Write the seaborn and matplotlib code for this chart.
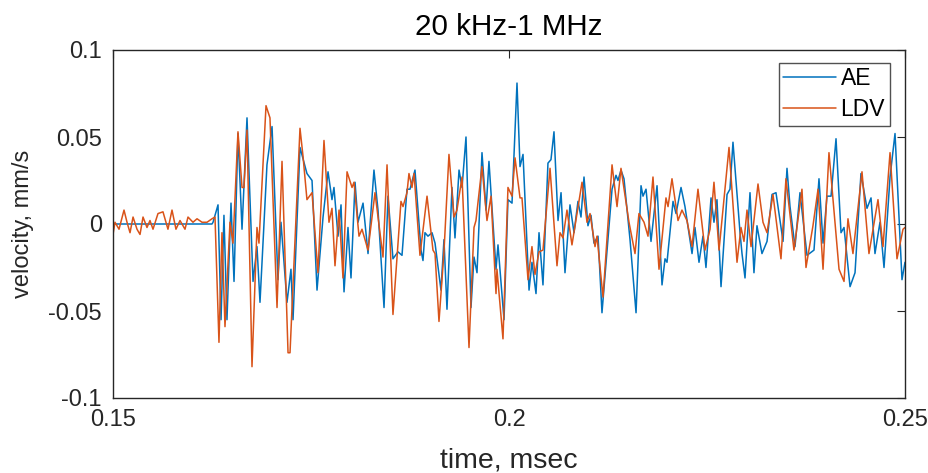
import numpy as np
import pandas as pd
import matplotlib
matplotlib.use("Agg")
import matplotlib.pyplot as plt
import seaborn as sns

# ---- data (time in msec, velocity in mm/s) ----
ae_time = [0.15000, 0.16250, 0.16263, 0.16326, 0.16364, 0.16401, 0.16439, 0.16490, 0.16528, 0.16578,
           0.16629, 0.16692, 0.16768, 0.16818, 0.16856, 0.16944, 0.17008, 0.17083, 0.17121, 0.17197,
           0.17247, 0.17273, 0.17361, 0.17449, 0.17513, 0.17576, 0.17652, 0.17715, 0.17765, 0.17790,
           0.17841, 0.17879, 0.17917, 0.17967, 0.18005, 0.18056, 0.18093, 0.18157, 0.18220, 0.18295,
           0.18346, 0.18422, 0.18472, 0.18535, 0.18598, 0.18649, 0.18712, 0.18750, 0.18813, 0.18889,
           0.18914, 0.18939, 0.18977, 0.19028, 0.19066, 0.19141, 0.19179, 0.19217, 0.19280, 0.19318,
           0.19369, 0.19407, 0.19457, 0.19520, 0.19558, 0.19596, 0.19659, 0.19710, 0.19747, 0.19836,
           0.19861, 0.19937, 0.19987, 0.20038, 0.20101, 0.20139, 0.20177, 0.20253, 0.20290, 0.20341,
           0.20379, 0.20429, 0.20492, 0.20530, 0.20568, 0.20619, 0.20657, 0.20707, 0.20770, 0.20821,
           0.20871, 0.20909, 0.20947, 0.20997, 0.21035, 0.21073, 0.21124, 0.21174, 0.21301, 0.21351,
           0.21376, 0.21414, 0.21452, 0.21528, 0.21604, 0.21667, 0.21692, 0.21730, 0.21793, 0.21869,
           0.21932, 0.21970, 0.21995, 0.22071, 0.22109, 0.22172, 0.22222, 0.22311, 0.22348, 0.22399,
           0.22449, 0.22487, 0.22551, 0.22588, 0.22626, 0.22677, 0.22753, 0.22790, 0.22828, 0.22917,
           0.22942, 0.22980, 0.23043, 0.23093, 0.23131, 0.23194, 0.23258, 0.23321, 0.23371, 0.23460,
           0.23510, 0.23548, 0.23611, 0.23674, 0.23763, 0.23851, 0.23914, 0.23965, 0.24015, 0.24066,
           0.24129, 0.24192, 0.24230, 0.24306, 0.24369, 0.24444, 0.24520, 0.24571, 0.24621, 0.24684,
           0.24735, 0.24811, 0.24874, 0.24962, 0.25000]
ae_vel = [0.000, 0.000, 0.001, 0.011, -0.055, 0.005, -0.055, 0.012, -0.033, 0.052,
          -0.003, 0.061, -0.033, -0.013, -0.045, 0.034, 0.056, -0.032, 0.001, -0.045,
          -0.026, -0.055, 0.044, 0.029, 0.025, -0.038, 0.004, 0.030, 0.014, 0.021,
          -0.007, 0.011, -0.039, -0.002, -0.031, 0.024, 0.001, 0.012, -0.017, 0.031,
          0.008, -0.048, 0.016, -0.020, -0.016, -0.018, 0.020, 0.020, 0.031, -0.015,
          -0.021, -0.005, -0.007, -0.005, -0.011, -0.038, -0.009, -0.049, 0.021, -0.008,
          0.031, 0.021, 0.050, -0.048, -0.019, -0.028, 0.041, 0.008, 0.036, -0.026,
          -0.012, -0.055, 0.014, 0.012, 0.081, 0.033, 0.040, -0.038, -0.022, -0.040,
          -0.005, -0.035, 0.035, 0.037, 0.053, 0.002, 0.018, -0.028, 0.011, -0.005,
          0.013, 0.004, 0.027, -0.001, 0.005, -0.011, -0.007, -0.051, 0.020, 0.028,
          0.025, 0.031, 0.026, -0.009, -0.051, 0.022, 0.016, 0.020, -0.010, 0.022,
          -0.035, -0.020, -0.022, 0.013, 0.006, 0.021, 0.010, -0.017, -0.002, -0.022,
          -0.007, -0.025, 0.015, 0.001, 0.014, -0.036, 0.017, 0.020, 0.047, -0.005,
          -0.017, -0.031, 0.018, -0.028, -0.001, -0.017, -0.010, 0.017, 0.018, -0.010,
          0.032, 0.010, -0.013, 0.018, -0.018, -0.015, 0.026, -0.011, 0.016, 0.016,
          0.049, -0.005, -0.002, -0.036, -0.028, 0.029, 0.009, 0.015, -0.017, 0.001,
          -0.025, 0.027, 0.052, -0.032, -0.022]

ldv_time = [0.15000, 0.15025, 0.15076, 0.15139, 0.15177, 0.15215, 0.15253, 0.15303, 0.15341, 0.15379,
            0.15429, 0.15467, 0.15505, 0.15568, 0.15631, 0.15694, 0.15745, 0.15795, 0.15846, 0.15909,
            0.15947, 0.16010, 0.16061, 0.16124, 0.16187, 0.16250, 0.16288, 0.16338, 0.16376, 0.16414,
            0.16477, 0.16515, 0.16578, 0.16629, 0.16654, 0.16692, 0.16755, 0.16818, 0.16843, 0.16932,
            0.16982, 0.17071, 0.17134, 0.17210, 0.17235, 0.17361, 0.17399, 0.17449, 0.17513, 0.17588,
            0.17664, 0.17727, 0.17765, 0.17803, 0.17854, 0.17904, 0.17955, 0.18018, 0.18043, 0.18106,
            0.18144, 0.18220, 0.18308, 0.18409, 0.18460, 0.18535, 0.18636, 0.18662, 0.18712, 0.18737,
            0.18775, 0.18801, 0.18876, 0.18965, 0.19040, 0.19066, 0.19116, 0.19179, 0.19242, 0.19306,
            0.19343, 0.19407, 0.19495, 0.19558, 0.19583, 0.19659, 0.19722, 0.19773, 0.19836, 0.19848,
            0.19924, 0.19987, 0.20038, 0.20076, 0.20139, 0.20164, 0.20240, 0.20290, 0.20328, 0.20379,
            0.20429, 0.20518, 0.20606, 0.20644, 0.20682, 0.20732, 0.20795, 0.20922, 0.20985, 0.21023,
            0.21086, 0.21111, 0.21187, 0.21301, 0.21364, 0.21414, 0.21515, 0.21591, 0.21641, 0.21705,
            0.21755, 0.21818, 0.21894, 0.21982, 0.22008, 0.22058, 0.22134, 0.22184, 0.22247, 0.22311,
            0.22386, 0.22475, 0.22538, 0.22588, 0.22652, 0.22778, 0.22879, 0.22929, 0.22967, 0.23005,
            0.23056, 0.23144, 0.23207, 0.23258, 0.23333, 0.23434, 0.23497, 0.23598, 0.23699, 0.23750,
            0.23838, 0.23902, 0.23965, 0.24040, 0.24167, 0.24230, 0.24280, 0.24343, 0.24457, 0.24545,
            0.24659, 0.24722, 0.24811, 0.24899, 0.24975, 0.25000]
ldv_vel = [-0.006, 0.001, -0.003, 0.008, 0.001, -0.005, 0.004, -0.003, -0.006, 0.004,
           -0.002, 0.002, -0.003, 0.006, 0.007, -0.003, 0.008, -0.003, 0.002, -0.003,
           0.004, 0.001, 0.003, 0.001, 0.001, 0.003, 0.004, -0.068, -0.005, -0.059,
           0.001, -0.011, 0.053, 0.021, 0.021, 0.054, -0.082, -0.002, -0.011, 0.068,
           0.061, -0.048, 0.036, -0.074, -0.074, 0.055, 0.039, 0.014, 0.018, -0.028,
           0.048, 0.001, 0.009, -0.024, 0.008, -0.031, 0.030, 0.021, 0.024, -0.007,
           -0.003, -0.015, 0.018, -0.019, 0.034, -0.052, 0.013, 0.010, 0.018, 0.029,
           0.021, 0.029, -0.018, 0.016, -0.015, -0.017, -0.056, -0.016, 0.040, 0.004,
           0.008, 0.027, -0.071, -0.002, 0.002, 0.033, 0.002, 0.016, -0.040, -0.026,
           -0.066, 0.021, 0.016, 0.038, 0.015, 0.015, -0.032, -0.013, -0.029, -0.016,
           -0.015, 0.032, -0.024, -0.005, -0.008, 0.008, -0.012, 0.024, 0.001, 0.006,
           -0.013, -0.007, -0.042, 0.034, 0.010, 0.032, 0.001, -0.017, 0.006, 0.001,
           -0.007, 0.027, -0.026, 0.015, 0.010, 0.026, 0.002, 0.008, 0.002, -0.013,
           0.020, -0.015, -0.003, 0.024, -0.015, 0.044, -0.022, -0.002, -0.010, 0.008,
           -0.013, 0.023, 0.001, -0.005, 0.017, -0.020, 0.026, -0.015, 0.020, -0.025,
           -0.001, 0.020, -0.026, 0.041, -0.026, -0.033, 0.003, -0.017, 0.030, -0.017,
           0.014, -0.013, 0.041, -0.020, -0.003, -0.002]

series_names = ["AE", "LDV"]
title_text = "20 kHz-1 MHz"
x_ticks = [0.15, 0.2, 0.25]
x_ticklabels = ["0.15", "0.2", "0.25"]
y_ticks = [-0.1, -0.05, 0, 0.05, 0.1]
y_ticklabels = ["-0.1", "-0.05", "0", "0.05", "0.1"]

# ---- style ----
sns.set_style("white")
plt.rcParams["font.family"] = ["Liberation Sans", "DejaVu Sans"]
plt.rcParams["axes.unicode_minus"] = False

axis_col = "#262626"
c_ae = "#0072BD"
c_ldv = "#D95319"

fig = plt.figure(figsize=(9.29, 4.73), dpi=100)
ax = fig.add_axes([113 / 929, 1 - 398 / 473, (905 - 113) / 929, (398 - 50) / 473])

df_ae = pd.DataFrame({"time": ae_time, "vel": ae_vel})
df_ldv = pd.DataFrame({"time": ldv_time, "vel": ldv_vel})
sns.lineplot(data=df_ae, x="time", y="vel", ax=ax, color=c_ae, lw=1.1,
             estimator=None, label=series_names[0])
sns.lineplot(data=df_ldv, x="time", y="vel", ax=ax, color=c_ldv, lw=1.1,
             estimator=None, label=series_names[1])

ax.set_xlim(0.15, 0.25)
ax.set_ylim(-0.1, 0.1)
ax.set_xticks(x_ticks)
ax.set_xticklabels(x_ticklabels)
ax.set_yticks(y_ticks)
ax.set_yticklabels(y_ticklabels)

for s in ax.spines.values():
    s.set_visible(True)
    s.set_color(axis_col)
    s.set_linewidth(1.0)

ax.tick_params(axis="both", which="both", direction="in", length=6, width=0.8,
               colors=axis_col, labelsize=17, top=True, right=True, pad=8)
for lbl in ax.get_xticklabels() + ax.get_yticklabels():
    lbl.set_color(axis_col)

ax.set_xlabel("time, msec", fontsize=20.5, color=axis_col, labelpad=12)
ax.set_ylabel("velocity, mm/s", fontsize=17, color=axis_col, labelpad=10)
ax.set_title(title_text, fontsize=21.3, color="black", pad=11)

leg = ax.legend(loc="upper right", fontsize=16.5, frameon=True, fancybox=False,
                borderpad=0.2, handlelength=2.3, handletextpad=0.2, labelspacing=0.35,
                bbox_to_anchor=(0.995, 0.997))
leg.get_frame().set_edgecolor(axis_col)
leg.get_frame().set_linewidth(1.0)
for t in leg.get_texts():
    t.set_color("black")

fig.savefig("out.png", dpi=100, facecolor="white")
